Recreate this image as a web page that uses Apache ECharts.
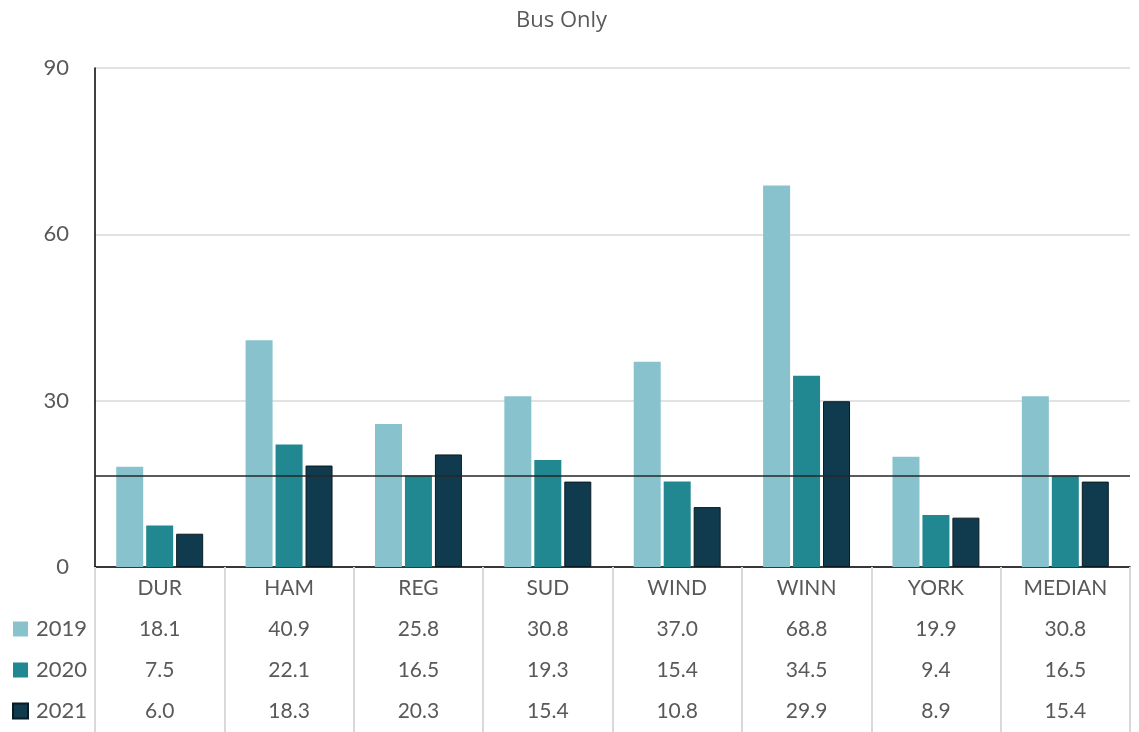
<!DOCTYPE html>
<html>
<head>
<meta charset="utf-8">
<script src="https://cdn.jsdelivr.net/npm/echarts@6/dist/echarts.min.js"></script>
<style>
  html, body { margin: 0; padding: 0; background: #fff; }
  #chart { width: 1139px; height: 732px; }
</style>
</head>
<body>
<div id="chart"></div>
<script>
const categories = ['DUR', 'HAM', 'REG', 'SUD', 'WIND', 'WINN', 'YORK', 'MEDIAN'];
const years = ['2019', '2020', '2021'];
const values2019 = [18.1, 40.9, 25.8, 30.8, 37.0, 68.8, 19.9, 30.8];
const values2020 = [7.5, 22.1, 16.5, 19.3, 15.4, 34.5, 9.4, 16.5];
const values2021 = [6.0, 18.3, 20.3, 15.4, 10.8, 29.9, 8.9, 15.4];
const yTicks = [0, 30, 60, 90];
const referenceLevel = values2020[values2020.length - 1]; // median of 2020

const colors = ['#88c3cd', '#218791', '#103b4e'];
const seriesValues = [values2019, values2020, values2021];
const FONT = 'Lato, "Open Sans", sans-serif';
const TEXT = '#595959';

const chart = echarts.init(document.getElementById('chart'));

const series = years.map((y, i) => ({
  name: y,
  type: 'bar',
  data: seriesValues[i],
  barWidth: 27,
  barGap: '11%',
  itemStyle: {
    color: colors[i],
    borderColor: i === 2 ? '#0a1a22' : colors[i],
    borderWidth: i === 2 ? 1 : 0
  },
  emphasis: { disabled: true }
}));

series[1].markLine = {
  silent: true,
  symbol: 'none',
  label: { show: false },
  lineStyle: { color: '#262626', width: 1.5, type: 'solid' },
  data: [{ yAxis: referenceLevel }]
};

chart.setOption({
  animation: false,
  title: {
    text: 'Bus Only',
    left: 511,
    top: 5,
    textStyle: { fontFamily: '"Open Sans", sans-serif', fontSize: 22, fontWeight: 'normal', color: TEXT }
  },
  legend: {
    orient: 'vertical',
    left: 7,
    top: 613,
    itemWidth: 15,
    itemHeight: 15,
    itemGap: 19,
    icon: 'rect',
    textStyle: { fontFamily: FONT, fontSize: 22, color: TEXT, lineHeight: 22, padding: [0, 0, 0, 3] },
    data: years
  },
  grid: { left: 95, right: 9, top: 68, bottom: 165, containLabel: false, outerBoundsMode: 'none' },
  xAxis: {
    type: 'category',
    data: categories,
    axisLine: { show: true, lineStyle: { color: '#000', width: 1.5 } },
    axisTick: { show: true, length: 165, lineStyle: { color: '#d9d9d9', width: 2 } },
    axisLabel: {
      margin: 1,
      interval: 0,
      fontFamily: FONT,
      fontSize: 21,
      color: TEXT,
      lineHeight: 41,
      formatter: (name, idx) => [
        name,
        values2019[idx].toFixed(1),
        values2020[idx].toFixed(1),
        values2021[idx].toFixed(1)
      ].join('\n')
    }
  },
  yAxis: {
    type: 'value',
    min: yTicks[0],
    max: yTicks[yTicks.length - 1],
    interval: 30,
    axisLine: { show: true, lineStyle: { color: '#000', width: 1.5 } },
    axisTick: { show: false },
    splitLine: { lineStyle: { color: '#d9d9d9', width: 1.5 } },
    axisLabel: { margin: 26, fontFamily: FONT, fontSize: 22, color: TEXT }
  },
  series: series
});
</script>
</body>
</html>
